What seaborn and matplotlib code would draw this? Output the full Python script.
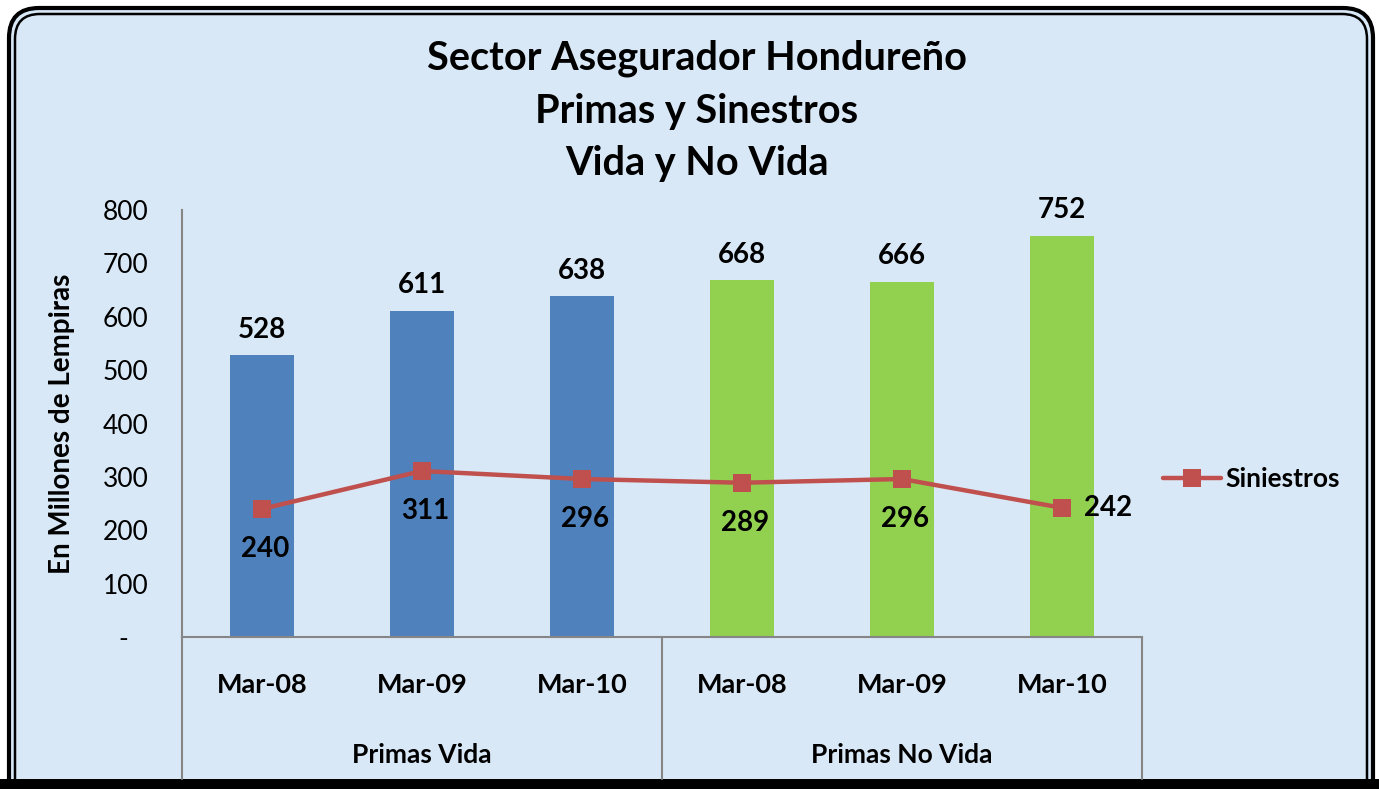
import numpy as np
import pandas as pd
import matplotlib
matplotlib.use("Agg")
import matplotlib.pyplot as plt
import seaborn as sns
from matplotlib.patches import FancyBboxPatch, Rectangle

# datos
categorias = ["Mar-08", "Mar-09", "Mar-10", "Mar-08", "Mar-09", "Mar-10"]
grupos = ["Primas Vida"] * 3 + ["Primas No Vida"] * 3
primas = [528, 611, 638, 668, 666, 752]
siniestros = [240, 311, 296, 289, 296, 242]
y_ticks = [0, 100, 200, 300, 400, 500, 600, 700, 800]

colores = {"Primas Vida": "#4f81bd", "Primas No Vida": "#92d050"}
rojo = "#c0504d"
gris = "#868686"
fondo = "#d9e8f6"

sns.set_theme(style="white")
plt.rcParams["font.family"] = ["Lato", "DejaVu Sans"]
for k in ["text.color", "axes.labelcolor", "xtick.color", "ytick.color"]:
    plt.rcParams[k] = "black"

df = pd.DataFrame({"idx": range(len(primas)), "cat": categorias,
                   "grupo": grupos, "primas": primas, "siniestros": siniestros})

W, H = 1379, 789
fig = plt.figure(figsize=(W / 100, H / 100), dpi=100, facecolor="white")

# marco redondeado doble
t = fig.dpi_scale_trans
fig.patches.append(FancyBboxPatch((9 / 100, -0.3), (1373 - 9) / 100, (H - 8) / 100 + 0.3,
                                  boxstyle="round,pad=0,rounding_size=0.3", fc=fondo,
                                  ec="black", lw=3, transform=t, figure=fig, zorder=-10))
fig.patches.append(FancyBboxPatch((15 / 100, -0.2), (1367 - 15) / 100, (H - 14) / 100 + 0.2,
                                  boxstyle="round,pad=0,rounding_size=0.25", fc="none",
                                  ec="black", lw=1.8, transform=t, figure=fig, zorder=-9))
fig.patches.append(Rectangle((0, 0), W / 100, (H - 779) / 100, fc="black", ec="none",
                             transform=t, figure=fig, zorder=-8))

ax = fig.add_axes([182 / W, (H - 637) / H, (1142 - 182) / W, (637 - 210) / H])
ax.set_facecolor("none")

sns.barplot(data=df, x="idx", y="primas", hue="grupo", palette=colores,
            dodge=False, width=0.4, legend=False, saturation=1, linewidth=0, ax=ax)
sns.lineplot(data=df, x="idx", y="siniestros", color=rojo, lw=3.2, marker="s",
             markersize=13, markeredgewidth=0, label="Siniestros", ax=ax)

ax.set_xlim(-0.5, 5.5)
ax.set_ylim(0, 800)
ax.set_yticks(y_ticks)
ax.set_yticklabels(["-   "] + [str(v) for v in y_ticks[1:]], fontsize=19)
ax.tick_params(axis="y", length=0, pad=24)
ax.set_xticks([])
ax.set_xlabel("")
ax.set_ylabel("")
for s in ["top", "right"]:
    ax.spines[s].set_visible(False)
for s in ["left", "bottom"]:
    ax.spines[s].set_color(gris)
    ax.spines[s].set_linewidth(1.5)

# etiquetas de valores
for i, v in enumerate(primas):
    ax.annotate(str(v), (i, v), xytext=(0, 9), textcoords="offset points",
                ha="center", va="bottom", fontsize=20, fontweight="bold")
for i, v in enumerate(siniestros):
    if i == len(siniestros) - 1:
        ax.annotate(str(v), (i, v), xytext=(16, 0), textcoords="offset points",
                    ha="left", va="center", fontsize=20, fontweight="bold")
    else:
        ax.annotate(str(v), (i, v), xytext=(2, -29), textcoords="offset points",
                    ha="center", va="center", fontsize=20, fontweight="bold")

# eje de categorias en dos niveles
trans = ax.get_xaxis_transform()
y_bot = -(779 - 637) / (637 - 210)
for xv in [-0.5, 2.5, 5.5]:
    ax.plot([xv, xv], [0, y_bot], transform=trans, color=gris, lw=1.5, clip_on=False)
for i, c in enumerate(categorias):
    ax.text(i, -(685 - 637) / (637 - 210), c, transform=trans, ha="center",
            va="center", fontsize=19.5, fontweight="bold")
for xc, g in [(1, "Primas Vida"), (4, "Primas No Vida")]:
    ax.text(xc, -(755 - 637) / (637 - 210), g, transform=trans, ha="center",
            va="center", fontsize=19, fontweight="bold")

leg = ax.legend(loc="center left", bbox_to_anchor=(1152 / W, 1 - 479 / H),
                bbox_transform=fig.transFigure, frameon=False, fontsize=19,
                handlelength=2.2, handletextpad=0.2, borderaxespad=0)
for txt in leg.get_texts():
    txt.set_fontweight("bold")

fig.text(62 / W, 1 - 424 / H, "En Millones de Lempiras", rotation=90, ha="center",
         va="center", fontsize=20, fontweight="bold")
for yy, linea in [(58, "Sector Asegurador Hondureño"), (111, "Primas y Sinestros"),
                  (163, "Vida y No Vida")]:
    fig.text(697 / W, 1 - yy / H, linea, ha="center", va="center", fontsize=28.5,
             fontweight="bold")

fig.savefig("out.png", dpi=100, facecolor="white")
